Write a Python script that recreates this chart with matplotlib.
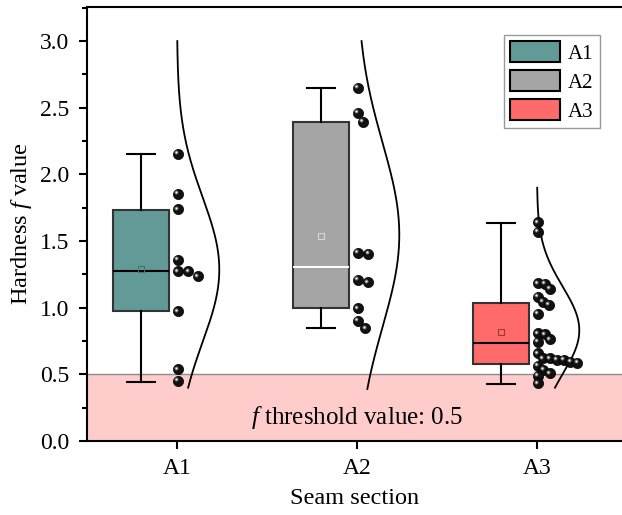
import numpy as np
import matplotlib.pyplot as plt
import matplotlib.transforms as mtransforms
from matplotlib.patches import Patch
from matplotlib.ticker import MultipleLocator

plt.rcParams['font.family'] = 'Liberation Serif'
plt.rcParams['mathtext.fontset'] = 'custom'
plt.rcParams['mathtext.rm'] = 'Liberation Serif'
plt.rcParams['mathtext.it'] = 'Liberation Serif:italic'

# Data
groups = ['A1', 'A2', 'A3']
a1 = [2.156, 1.855, 1.739, 1.361, 1.273, 1.273, 1.235, 0.972, 0.539, 0.451]
a2 = [2.649, 2.464, 2.394, 1.411, 1.404, 1.21, 1.19, 0.995, 0.902, 0.845]
a3 = [1.642, 1.571, 1.183, 1.178, 1.140, 1.083, 1.045, 1.020, 0.953, 0.808,
      0.800, 0.763, 0.745, 0.658, 0.620, 0.620, 0.608, 0.608, 0.595, 0.587,
      0.565, 0.533, 0.508, 0.488, 0.433]
# box statistics as drawn
q1 = [0.972, 0.995, 0.581]
med = [1.273, 1.303, 0.732]
q3 = [1.735, 2.394, 1.035]
wlo = [0.446, 0.847, 0.426]
whi = [2.150, 2.649, 1.634]
means = [1.293, 1.541, 0.820]
# y-range covered by each distribution curve
curve_lo = [0.40, 0.39, 0.40]
curve_hi = [3.0, 3.0, 1.9]
threshold = 0.5

colors = ['#629A98', '#A5A5A5', '#FF6B6B']
median_colors = ['black', 'white', 'black']
mean_colors = ['#4E6F6E', '#D8D8D8', '#9A3A3A']
swarm_gap = [10.5, 10.5, 7.0]  # px between dot centres

fig = plt.figure(figsize=(6.22, 5.15), dpi=100)
ax = fig.add_axes([87/622, 74/515, 535/622, 434/515])
ax.set_xlim(0.5, 0.5 + 535/180)
ax.set_ylim(0, 434/133.3)

# threshold band
ax.axhspan(0, threshold, color='#FFCCCC', zorder=0, lw=0)
ax.axhline(threshold, color='#8C8C8C', lw=1, zorder=1)
ax.text(2, 0.18, '$f$ threshold value: 0.5', ha='center', va='center', fontsize=18)

pos = np.arange(1, len(groups) + 1)
data = [a1, a2, a3]

stats = [dict(med=med[i], q1=q1[i], q3=q3[i], whislo=wlo[i], whishi=whi[i],
              mean=means[i], fliers=[]) for i in range(len(groups))]
bp = ax.bxp(stats, positions=pos - 0.2, widths=0.31, patch_artist=True,
            showmeans=True, showfliers=False, capwidths=0.16,
            boxprops=dict(edgecolor='#333333', linewidth=1.5),
            whiskerprops=dict(color='black', linewidth=1.5),
            capprops=dict(color='black', linewidth=1.5),
            medianprops=dict(linewidth=1.5),
            meanprops=dict(marker='s', markersize=4, markerfacecolor='none',
                           markeredgewidth=0.8))
for i in range(len(groups)):
    bp['boxes'][i].set_facecolor(colors[i])
    bp['medians'][i].set_color(median_colors[i])
    bp['means'][i].set_markeredgecolor(mean_colors[i])

# one-sided swarm layout in pixel space
sx = ax.bbox.width / (ax.get_xlim()[1] - ax.get_xlim()[0])
sy = ax.bbox.height / (ax.get_ylim()[1] - ax.get_ylim()[0])


def swarm(vals, d):
    placed = []
    offs = []
    for v in vals:
        y = v * sy
        cands = [0.0]
        for px, py in placed:
            dy = abs(py - y)
            if dy < d:
                cands.append(px + np.sqrt(d * d - dy * dy))
        best = 0.0
        for c in sorted(cands):
            if all((c - px) ** 2 + (y - py) ** 2 >= d * d - 1e-6 for px, py in placed):
                best = c
                break
        placed.append((best, y))
        offs.append(best / sx)
    return np.array(offs)


hl = mtransforms.offset_copy(ax.transData, fig=fig, x=-1.6, y=1.6, units='dots')
for i, vals in enumerate(data):
    xs = pos[i] + 0.005 + swarm(vals, swarm_gap[i])
    ax.scatter(xs, vals, s=54, color='#111111', edgecolor='black', lw=0.5, zorder=4)
    ax.scatter(xs, vals, s=8, color='#7A7A7A', lw=0, zorder=5, transform=hl)
    ax.scatter(xs, vals, s=1.5, color='white', lw=0, zorder=6, transform=hl)

    # normal distribution curve
    m = np.mean(vals)
    s = np.std(vals, ddof=1)
    yy = np.linspace(curve_lo[i], curve_hi[i], 300)
    xx = pos[i] + 0.235 * np.exp(-0.5 * ((yy - m) / s) ** 2)
    ax.plot(xx, yy, color='black', lw=1.3, zorder=3)

ax.set_xticks(pos, groups)
ax.yaxis.set_major_locator(MultipleLocator(0.5))
ax.yaxis.set_minor_locator(MultipleLocator(0.25))
ax.tick_params(direction='out', width=1.5, length=6, labelsize=17)
ax.tick_params(axis='x', pad=6)
ax.tick_params(axis='y', pad=7)
ax.tick_params(which='minor', direction='out', width=1.5, length=3.5)
for sp in ['left', 'bottom', 'top']:
    ax.spines[sp].set_linewidth(1.5)
ax.spines['right'].set_visible(False)

ax.set_xlabel('Seam section', fontsize=17.5, labelpad=7)
ax.set_ylabel('Hardness $f$ value', fontsize=17.5, labelpad=4)

handles = [Patch(facecolor=c, edgecolor='black', linewidth=1.5) for c in colors]
ax.legend(handles, groups, loc='upper right', bbox_to_anchor=(0.959, 0.936),
          fontsize=15, handlelength=2.4, handleheight=1.2, fancybox=False,
          edgecolor='#999999', framealpha=1, labelspacing=0.3,
          handletextpad=0.4, borderpad=0.3, borderaxespad=0)

fig.savefig('out.png', dpi=100)
